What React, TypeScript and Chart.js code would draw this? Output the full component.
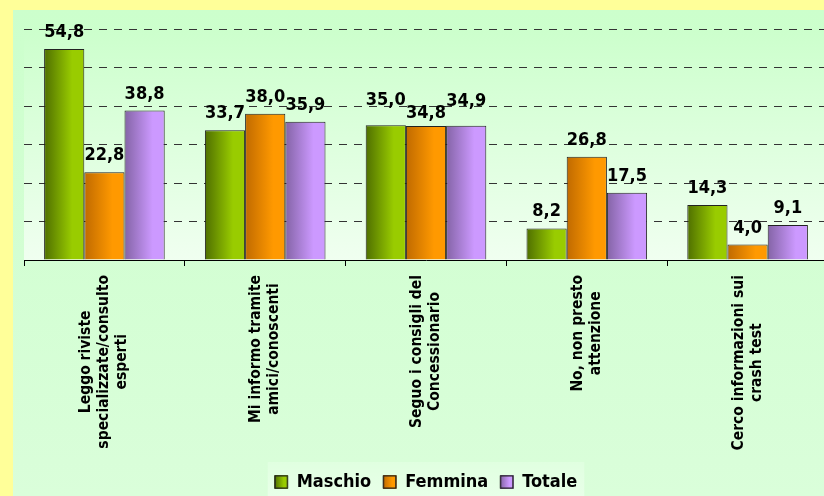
import { useEffect, useRef } from "react";
import { Chart, registerables } from "chart.js";

Chart.register(...registerables);

const categories: string[][] = [
  ["Leggo riviste", "specializzate/consulto", "esperti"],
  ["Mi informo tramite", "amici/conoscenti"],
  ["Seguo i consigli del", "Concessionario"],
  ["No, non presto", "attenzione"],
  ["Cerco informazioni sui", "crash test"],
];
const maschio = [54.8, 33.7, 35.0, 8.2, 14.3];
const femmina = [22.8, 38.0, 34.8, 26.8, 4.0];
const totale = [38.8, 35.9, 34.9, 17.5, 9.1];
const seriesNames = ["Maschio", "Femmina", "Totale"];
const yMin = 0;
const yMax = 60;
const yStep = 10;

const darkColors = ["#4f6f00", "#c06a00", "#8464a6"];
const brightColors = ["#99cc00", "#ff9900", "#cc99ff"];

const FONT = "'DejaVu Sans Condensed', 'DejaVu Sans', Verdana, sans-serif";

function fmt(v: number) {
  return v.toFixed(1).replace(".", ",");
}

function hGrad(ctx: CanvasRenderingContext2D, left: number, width: number, i: number) {
  const g = ctx.createLinearGradient(left, 0, left + width, 0);
  g.addColorStop(0, darkColors[i]);
  g.addColorStop(0.7, brightColors[i]);
  g.addColorStop(1, brightColors[i]);
  return g;
}

const bgPlugin = {
  id: "bgPlugin",
  beforeDraw(chart: any) {
    const ctx = chart.ctx as CanvasRenderingContext2D;
    const W = chart.width;
    const H = chart.height;
    const ca = chart.chartArea;
    ctx.save();
    ctx.fillStyle = "#ffff99";
    ctx.fillRect(0, 0, W, H);
    const g = ctx.createLinearGradient(0, 10, 0, H);
    g.addColorStop(0, "#ccffcc");
    g.addColorStop(1, "#dafeda");
    ctx.fillStyle = g;
    ctx.fillRect(13, 10, W - 13, H - 10);
    const pg = ctx.createLinearGradient(0, ca.top, 0, ca.bottom);
    pg.addColorStop(0, "#ccffcc");
    pg.addColorStop(1, "#f0fff0");
    ctx.fillStyle = pg;
    ctx.fillRect(ca.left, ca.top, ca.right - ca.left, ca.bottom - ca.top);
    const hb = chart.legend && chart.legend.legendHitBoxes;
    if (hb && hb.length) {
      const l = hb[0].left - 7;
      const r = hb[hb.length - 1].left + hb[hb.length - 1].width + 7;
      const t = hb[0].top - 11;
      const lg = ctx.createLinearGradient(0, t, 0, H);
      lg.addColorStop(0, "#e0ffe0");
      lg.addColorStop(1, "#e8ffe8");
      ctx.fillStyle = lg;
      ctx.fillRect(l, t, r - l, H - t);
    }
    ctx.restore();
  },
  beforeDatasetsDraw(chart: any) {
    const ctx = chart.ctx as CanvasRenderingContext2D;
    chart.data.datasets.forEach((_: any, di: number) => {
      const meta = chart.getDatasetMeta(di);
      meta.data.forEach((el: any) => {
        const { x, width } = el.getProps(["x", "width"], true);
        if (el.options) el.options.backgroundColor = hGrad(ctx, x - width / 2, width, di);
      });
    });
  },
  afterDatasetsDraw(chart: any) {
    const ctx = chart.ctx as CanvasRenderingContext2D;
    ctx.save();
    ctx.font = `bold 18px ${FONT}`;
    ctx.fillStyle = "#000";
    ctx.textAlign = "center";
    ctx.textBaseline = "alphabetic";
    const nCat = chart.data.labels.length;
    const nDs = chart.data.datasets.length;
    for (let i = 0; i < nCat; i++) {
      const items: { x: number; y: number; w: number; text: string; lowered: boolean }[] = [];
      for (let di = 0; di < nDs; di++) {
        const el = chart.getDatasetMeta(di).data[i];
        const { x, y } = el.getProps(["x", "y"], true);
        const text = fmt(chart.data.datasets[di].data[i]);
        const w = ctx.measureText(text).width;
        const cur = { x, y: y - 12, w, text, lowered: false };
        const prev = items[items.length - 1];
        if (prev) {
          const overlapX = prev.x + prev.w / 2 + 2 > cur.x - cur.w / 2;
          const overlapY = Math.abs(prev.y - cur.y) < 6;
          if (overlapX && overlapY) {
            if (prev.lowered) {
              cur.y -= 8;
            } else {
              prev.y -= 8;
              cur.y += 4;
              cur.lowered = true;
            }
          }
        }
        items.push(cur);
      }
      items.forEach((it) => ctx.fillText(it.text, it.x, it.y));
    }
    ctx.restore();
  },
  afterDraw(chart: any) {
    const ctx = chart.ctx as CanvasRenderingContext2D;
    const ca = chart.chartArea;
    const xs = chart.scales.x;
    ctx.save();
    ctx.font = `bold 15.5px ${FONT}`;
    ctx.fillStyle = "#000";
    categories.forEach((lines, i) => {
      const cx = xs.getPixelForValue(i);
      const widths = lines.map((s) => ctx.measureText(s).width);
      const maxW = Math.max(...widths);
      const top = ca.bottom + 15;
      const lh = 18;
      lines.forEach((s, j) => {
        const lx = cx + (j - (lines.length - 1) / 2) * lh;
        ctx.save();
        ctx.translate(lx, top + maxW / 2);
        ctx.rotate(-Math.PI / 2);
        ctx.textAlign = "center";
        ctx.textBaseline = "middle";
        ctx.fillText(s, 0, 0);
        ctx.restore();
      });
    });
    const hb = chart.legend && chart.legend.legendHitBoxes;
    if (hb) {
      hb.forEach((b: any, i: number) => {
        const s = 13;
        const bx = b.left;
        const by = b.top + (b.height - s) / 2;
        ctx.fillStyle = hGrad(ctx, bx, s, i);
        ctx.fillRect(bx, by, s, s);
        ctx.strokeStyle = "#222";
        ctx.lineWidth = 1;
        ctx.strokeRect(bx + 0.5, by + 0.5, s - 1, s - 1);
      });
    }
    ctx.restore();
  },
};

export default function App() {
  const ref = useRef<HTMLCanvasElement | null>(null);
  useEffect(() => {
    if (!ref.current) return;
    const seriesData = [maschio, femmina, totale];
    const chart = new Chart(ref.current, {
      type: "bar",
      data: {
        labels: categories.map((c) => c.join(" ")),
        datasets: seriesNames.map((name, i) => ({
          label: name,
          data: seriesData[i],
          backgroundColor: () => brightColors[i],
          borderColor: "#222222",
          borderWidth: 1,
          categoryPercentage: 0.75,
          barPercentage: 1.0,
        })),
      },
      options: {
        animation: false,
        responsive: false,
        maintainAspectRatio: false,
        layout: { padding: { left: 24, top: 29, right: 0, bottom: -5 } },
        plugins: {
          legend: {
            position: "bottom",
            labels: {
              font: { family: FONT, size: 18, weight: "bold" },
              color: "#000",
              boxWidth: 13,
              boxHeight: 13,
              padding: 12,
            },
          },
          tooltip: { enabled: false },
        },
        scales: {
          x: {
            offset: true,
            grid: {
              offset: true,
              drawOnChartArea: false,
              drawTicks: true,
              tickLength: 6,
              color: "#000",
            },
            border: { display: true, color: "#000", width: 1 },
            ticks: { display: false },
            afterFit: (s: any) => {
              s.height = 201;
            },
          },
          y: {
            min: yMin,
            max: yMax,
            ticks: { display: false, stepSize: yStep },
            border: { display: false, dash: [8, 7] },
            grid: { color: "#333", drawTicks: false, lineWidth: 1 },
            afterFit: (s: any) => {
              s.width = 0;
            },
          },
        },
      },
      plugins: [bgPlugin],
    } as any);
    return () => chart.destroy();
  }, []);
  return (
    <div style={{ position: "fixed", left: 0, top: 0, width: 824, height: 496, overflow: "hidden" }}>
      <canvas ref={ref} width={828} height={496} style={{ display: "block", width: 828, height: 496 }} />
    </div>
  );
}
